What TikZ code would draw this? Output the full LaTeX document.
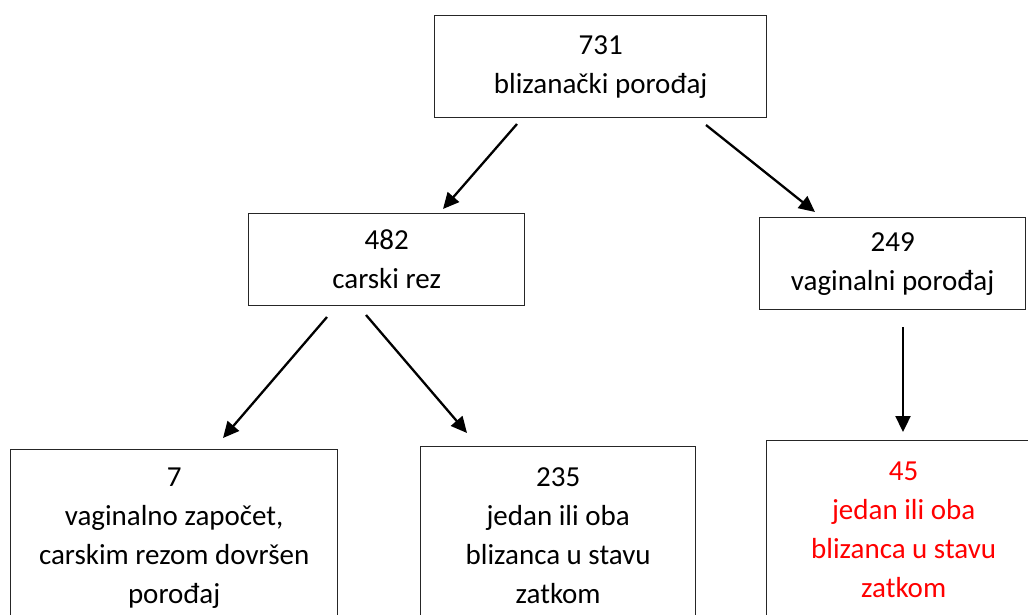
\documentclass[tikz,border=0pt]{standalone}
\usepackage{fontspec}
\setmainfont{Carlito}
\usetikzlibrary{arrows.meta}
\begin{document}
\begin{tikzpicture}[x=1pt,y=-1pt,
  box/.style={draw=black!85, line width=1.3pt, rectangle, align=center, inner sep=0pt,
    font=\fontsize{29}{39}\selectfont, anchor=north west},
  conn/.style={line width=2.3pt, -{Triangle[length=16pt,width=15pt]}},
  red text/.style={text={rgb,255:red,255;green,0;blue,0}}]
\useasboundingbox (0,0) rectangle (1028,614);
\clip (0,0) rectangle (1028,614);
\fill[white] (0,0) rectangle (1028,614);
\node[box, minimum width=332pt, minimum height=102pt] (top) at (434,15) {731\\blizanački porođaj};
\node[box, minimum width=276pt, minimum height=92pt] (cs) at (248,213) {482\\carski rez};
\node[box, minimum width=266pt, minimum height=92pt] (vag) at (759,217) {249\\vaginalni porođaj};
\node[box, minimum width=327pt, minimum height=178pt] (bl) at (10,449) {7\\vaginalno započet,\\carskim rezom dovršen\\porođaj};
\node[box, minimum width=275pt, minimum height=178pt] (bm) at (420,446) {235\\jedan ili oba\\blizanca u stavu\\zatkom};
\node[box, red text, minimum width=274pt, minimum height=178pt] (br) at (766,440) {45\\jedan ili oba\\blizanca u stavu\\zatkom};
\coordinate (a1s) at (517,124); \coordinate (a1e) at (443,209);
\coordinate (a2s) at (706,125); \coordinate (a2e) at (815,212);
\coordinate (a3s) at (327,317); \coordinate (a3e) at (223,438);
\coordinate (a4s) at (366,315); \coordinate (a4e) at (467,433);
\coordinate (a5s) at (903,327); \coordinate (a5e) at (903,432);
\draw[conn] (a1s) -- (a1e);
\draw[conn] (a2s) -- (a2e);
\draw[conn] (a3s) -- (a3e);
\draw[conn] (a4s) -- (a4e);
\draw[conn] (a5s) -- (a5e);
\end{tikzpicture}
\end{document}
